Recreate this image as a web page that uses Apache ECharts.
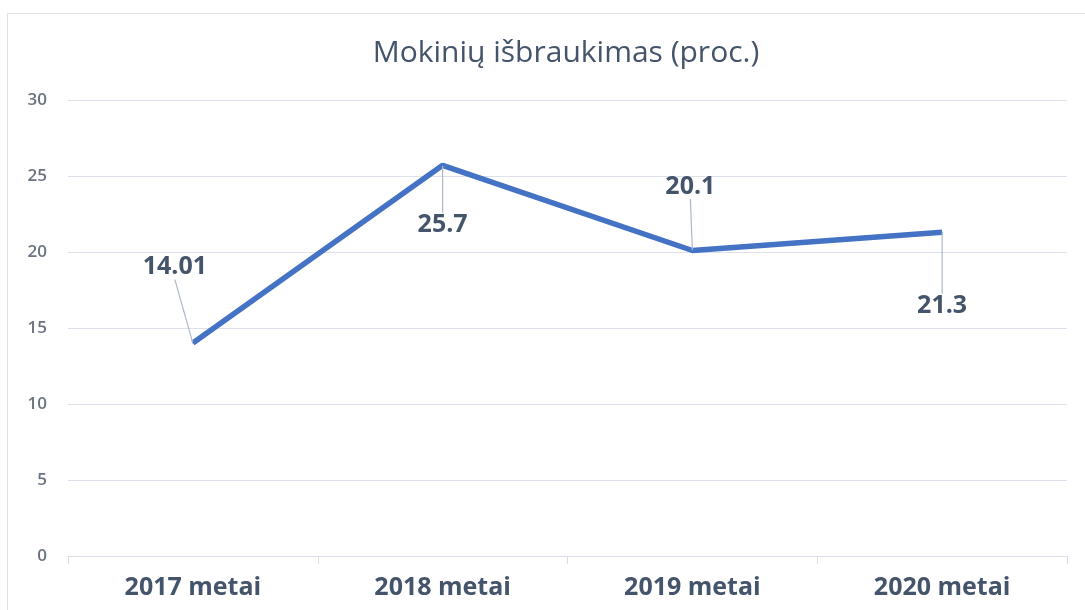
<!DOCTYPE html>
<html>
<head>
<meta charset="utf-8">
<script src="https://cdn.jsdelivr.net/npm/echarts@6/dist/echarts.min.js"></script>
<style>
  html, body { margin: 0; padding: 0; background: #fff; }
  .frame {
    position: absolute; left: 7px; top: 13px; width: 1100px; height: 620px;
    border: 1px solid #dde1e8; box-sizing: border-box;
  }
  #chart { position: absolute; left: 0; top: 0; width: 1085px; height: 610px; }
</style>
</head>
<body>
<div class="frame"></div>
<div id="chart"></div>
<script>
const categories = ['2017 metai', '2018 metai', '2019 metai', '2020 metai']
const values = [14.01, 25.7, 20.1, 21.3]
const yTicks = [0, 5, 10, 15, 20, 25, 30]

// label shift from default 'top' spot, one per point
const labelShift = [[-18, -58], [0, 78], [-2, -46], [0, 92]]

const chart = echarts.init(document.getElementById('chart'))

chart.setOption({
  backgroundColor: 'transparent',
  animation: false,
  title: {
    text: 'Mokinių išbraukimas (proc.)',
    left: 561,
    top: 33,
    textAlign: 'center',
    textStyle: {
      fontFamily: 'Open Sans',
      fontSize: 30,
      fontWeight: 'normal',
      color: '#44546a'
    }
  },
  grid: {
    left: 68,
    right: 18,
    top: 100,
    bottom: 54
  },
  xAxis: {
    type: 'category',
    data: categories,
    boundaryGap: true,
    axisLine: { lineStyle: { color: '#d9dde5', width: 1 } },
    axisTick: { show: true, length: 8, lineStyle: { color: '#d9dde5' } },
    axisLabel: {
      margin: 19,
      fontFamily: 'Open Sans',
      fontSize: 25,
      fontWeight: 'bold',
      color: '#44546a'
    }
  },
  yAxis: {
    type: 'value',
    min: yTicks[0],
    max: yTicks[yTicks.length - 1],
    interval: 5,
    axisLine: { show: false },
    axisTick: { show: false },
    splitLine: { lineStyle: { color: '#dde1ea', width: 1.2 } },
    axisLabel: {
      margin: 21,
      fontFamily: 'Open Sans',
      fontSize: 17,
      fontWeight: 600,
      color: '#6b7280'
    }
  },
  series: [{
    type: 'line',
    data: values,
    symbol: 'circle',
    symbolSize: 1,
    showSymbol: true,
    itemStyle: { color: '#4472c4' },
    lineStyle: { color: '#4472c4', width: 5.5 },
    label: {
      show: true,
      position: 'top',
      fontFamily: 'Open Sans',
      fontSize: 25,
      fontWeight: 'bold',
      color: '#44546a'
    },
    labelLine: {
      show: true,
      lineStyle: { color: '#adb9ca', width: 1.2 }
    },
    labelLayout: function (params) {
      const s = labelShift[params.dataIndex]
      return { dx: s[0], dy: s[1] }
    }
  }]
})
</script>
</body>
</html>
